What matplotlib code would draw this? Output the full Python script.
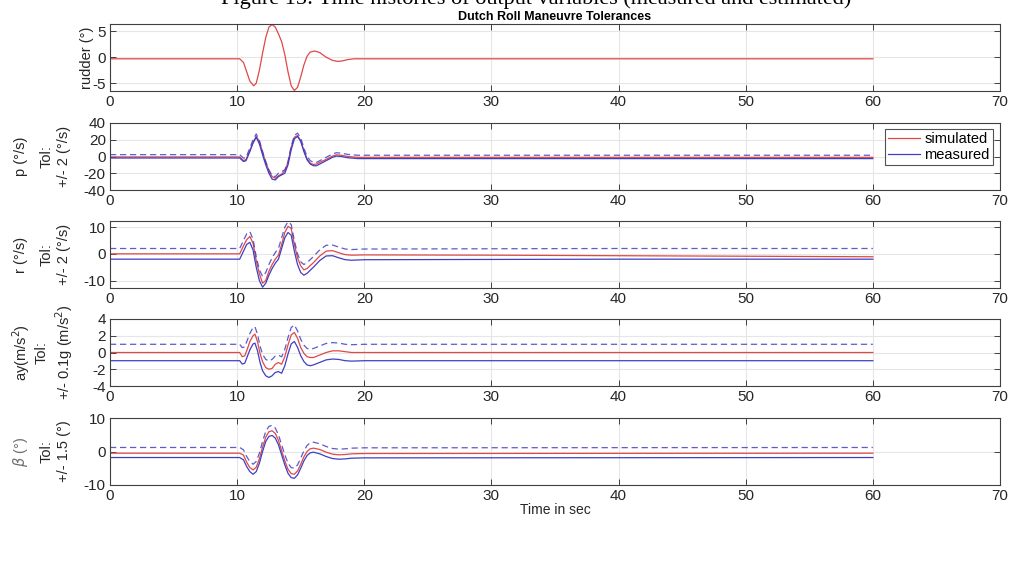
import numpy as np
import matplotlib
matplotlib.use('Agg')
from matplotlib import pyplot as plt

plt.rcParams['font.family'] = ['Liberation Sans', 'DejaVu Sans']
plt.rcParams['axes.unicode_minus'] = False

RED = '#e04848'
BLUE = '#3f3fc4'
TXT = '#262626'

# rudder (simulated only)
t_rud = [0, 10.2, 10.5, 10.75, 11.0, 11.3, 11.5, 11.75, 12.0, 12.25, 12.5, 12.75, 13.0, 13.25,
         13.5, 13.75, 14.0, 14.25, 14.5, 14.75, 15.0, 15.25, 15.5, 15.75, 16.1, 16.5, 17.0,
         17.5, 17.9, 18.3, 18.7, 19.2, 60]
rud_sim = [-0.3, -0.3, -1.0, -2.8, -4.6, -5.5, -5.0, -2.5, 0.8, 3.8, 5.8, 6.3, 5.8, 4.5,
           3.0, 0.5, -2.8, -5.5, -6.4, -5.8, -3.8, -1.5, 0.2, 1.0, 1.2, 0.9, 0.0,
           -0.6, -0.8, -0.7, -0.45, -0.3, -0.3]

# roll rate p
t_p = [0, 10.2, 10.5, 10.7, 11.0, 11.25, 11.5, 11.75, 12.0, 12.25, 12.5, 12.75, 13.0, 13.25,
       13.5, 13.75, 14.0, 14.25, 14.5, 14.75, 15.0, 15.25, 15.5, 15.75, 16.0, 16.25, 16.5,
       17.0, 17.5, 17.8, 18.2, 18.7, 19.5, 20, 60]
p_meas = [0.2, 0.2, -4, -3, 8, 18, 25, 17, 4, -8, -18, -25, -26, -22,
          -20, -18, -8, 10, 23, 26, 20, 8, -2, -7, -9, -9, -7,
          -3, 1, 2.5, 2, 0.5, -0.5, -0.5, -0.5]
p_sim = [-0.5, -0.5, -5, -3.5, 7, 17, 24, 18, 5, -7, -17, -24, -26, -23,
         -21, -17, -7, 11, 23, 25, 19, 7, -3, -8, -9.5, -9, -7,
         -3.5, 0.5, 2, 1.5, 0, -1, -1, -1]
p_tol = 2

# yaw rate r
t_r = [0, 10.2, 10.5, 10.75, 11.0, 11.25, 11.5, 11.75, 12.0, 12.25, 12.5, 12.75, 13.0, 13.25,
       13.5, 13.75, 14.0, 14.25, 14.5, 14.75, 15.0, 15.25, 15.5, 16.0, 16.5, 17.0, 17.5,
       18.0, 18.5, 19.0, 20, 30, 40, 50, 60]
r_meas = [0, 0, 3, 5.5, 6.3, 3.5, -3, -8, -10.5, -9, -6, -3.5, -1.5, 0,
          4, 8, 10, 9, 3, -2, -5, -6, -5.3, -3, -0.5, 1.2, 1.3,
          0.5, -0.2, -0.4, -0.2, -0.1, 0, 0, 0]
r_sim = [0, 0, 3, 5.3, 6.5, 4, -2.5, -7.5, -11, -10, -6.5, -4, -2, -0.5,
         3.5, 8, 10.3, 9.5, 3.5, -1.5, -4.5, -6, -5.5, -3.3, -0.8, 1.0, 1.2,
         0.4, -0.3, -0.5, -0.4, -0.5, -0.7, -0.9, -1.1]
r_tol = 2

# lateral acceleration ay
t_ay = [0, 10.2, 10.4, 10.6, 10.8, 11.0, 11.25, 11.4, 11.6, 11.8, 12.0, 12.25, 12.5, 12.75,
        13.0, 13.25, 13.5, 13.75, 14.0, 14.25, 14.5, 14.75, 15.0, 15.25, 15.5, 15.75, 16.0,
        16.5, 17.0, 17.5, 18.0, 18.5, 19.0, 20, 60]
ay_meas = [0, 0, -0.4, -0.3, 0.5, 1.3, 2.0, 2.1, 1.2, -0.2, -1.2, -1.8, -2.0, -1.8,
           -1.4, -1.3, -1.5, -0.6, 0.8, 2.0, 2.3, 1.6, 0.6, -0.1, -0.5, -0.6, -0.5,
           -0.2, 0.1, 0.2, 0.15, 0.0, -0.05, 0, 0]
ay_sim = [0, 0, -0.5, -0.4, 0.4, 1.3, 2.0, 2.2, 1.3, -0.1, -1.1, -1.8, -2.0, -1.9,
          -1.4, -1.2, -1.4, -0.5, 0.9, 2.1, 2.4, 1.7, 0.6, -0.1, -0.5, -0.6, -0.6,
          -0.3, 0.0, 0.2, 0.2, 0.1, 0.0, 0, 0]
ay_tol = 0.98

# sideslip beta
t_b = [0, 10.2, 10.5, 10.75, 11.0, 11.25, 11.5, 11.75, 12.0, 12.25, 12.5, 12.75, 13.0, 13.25,
       13.5, 13.75, 14.0, 14.25, 14.5, 14.75, 15.0, 15.25, 15.5, 15.75, 16.0, 16.5, 17.0,
       17.5, 18.0, 18.5, 19.0, 20, 60]
b_meas = [-0.3, -0.3, -1.0, -3.0, -4.5, -5.3, -4.5, -2.0, 1.5, 4.5, 6.0, 6.3, 5.5, 3.5,
          0.5, -2.5, -5.0, -6.3, -6.5, -5.5, -3.5, -1.3, 0.3, 1.1, 1.3, 0.8, 0.0,
          -0.6, -0.8, -0.7, -0.5, -0.4, -0.3]
b_sim = [-0.5, -0.5, -1.1, -3.2, -4.8, -5.5, -4.7, -2.2, 1.3, 4.3, 5.9, 6.2, 5.4, 3.3,
         0.2, -2.8, -5.3, -6.6, -6.8, -5.8, -3.8, -1.6, 0.0, 0.8, 1.0, 0.6, -0.2,
         -0.8, -1.0, -0.9, -0.7, -0.6, -0.5]
b_tol = 1.5

panels = [
    dict(t=t_p, sim=p_sim, meas=p_meas, tol=p_tol, ylim=(-40, 40), yt=[-40, -20, 0, 20, 40],
         outer='p (°/s)', inner='Tol:\n+/- 2 (°/s)', ix=-0.044),
    dict(t=t_r, sim=r_sim, meas=r_meas, tol=r_tol, ylim=(-12.8, 12.3), yt=[-10, 0, 10],
         outer='r (°/s)', inner='Tol:\n+/- 2 (°/s)', ix=-0.044),
    dict(t=t_ay, sim=ay_sim, meas=ay_meas, tol=ay_tol, ylim=(-4, 4), yt=[-4, -2, 0, 2, 4],
         outer='ay(m/s$^2$)', inner='Tol:\n+/- 0.1g (m/s$^2$)', ix=-0.039),
    dict(t=t_b, sim=b_sim, meas=b_meas, tol=b_tol, ylim=(-10, 10), yt=[-10, 0, 10],
         outer=r'$\beta$ (°)', inner='Tol:\n+/- 1.5 (°)', ix=-0.044),
]

W, H = 1017, 575
fig = plt.figure(figsize=(W / 100, H / 100), dpi=100)

left = 110 / W
width = 890 / W
tops = [24, 123, 221, 319, 418]
ph = 67


def style(ax):
    ax.set_xlim(0, 70)
    ax.set_xticks(range(0, 71, 10))
    ax.grid(True, color='#e6e6e6', linewidth=0.8)
    ax.set_axisbelow(True)
    ax.tick_params(direction='in', top=True, right=True, length=4, width=0.7,
                   colors='#404040', labelcolor=TXT, labelsize=11, pad=3)
    for s in ax.spines.values():
        s.set_color('#404040')
        s.set_linewidth(0.8)


axes = []
for i in range(5):
    ax = fig.add_axes([left, 1 - (tops[i] + ph) / H, width, ph / H])
    style(ax)
    axes.append(ax)

ax = axes[0]
ax.plot(t_rud, rud_sim, color=RED, lw=0.9)
ax.set_ylim(-6.5, 6.4)
ax.set_yticks([-5, 0, 5])
ax.set_ylabel('rudder (°)', fontsize=10.5, color=TXT)
ax.yaxis.set_label_coords(-0.018, 0.5)
ax.set_title('Dutch Roll Maneuvre Tolerances', fontsize=9, fontweight='bold', pad=3)

for ax, pn in zip(axes[1:], panels):
    m = np.array(pn['meas'])
    l1, = ax.plot(pn['t'], pn['sim'], color=RED, lw=0.9)
    l2, = ax.plot(pn['t'], m - pn['tol'], color=BLUE, lw=0.9)
    ax.plot(pn['t'], m + pn['tol'], color=BLUE, lw=0.9, ls=(0, (5, 3)), alpha=0.85)
    ax.set_ylim(*pn['ylim'])
    ax.set_yticks(pn['yt'])
    ax.set_ylabel(pn['inner'], fontsize=10.5, color=TXT, linespacing=1.3)
    ax.yaxis.set_label_coords(pn['ix'], 0.5)
    c = '#707070' if 'beta' in pn['outer'] else TXT
    ax.text(-0.1, 0.5, pn['outer'], transform=ax.transAxes, rotation=90,
            ha='center', va='center', fontsize=10.5, color=c)
    if ax is axes[1]:
        leg = ax.legend([l1, l2], ['simulated', 'measured'], loc='upper right',
                        bbox_to_anchor=(0.995, 0.95), fontsize=10.5, frameon=True,
                        fancybox=False, edgecolor='#262626', borderpad=0.2,
                        handlelength=2.2, handletextpad=0.3, labelspacing=0.1,
                        borderaxespad=0.2)
        leg.get_frame().set_linewidth(0.8)

axes[-1].set_xlabel('Time in sec', fontsize=10, color=TXT, labelpad=0)

fig.text(0.527, 1 + 1 / H, 'Figure 15: Time histories of output variables (measured and estimated)',
         ha='center', va='center', fontsize=16, family=['Liberation Serif', 'DejaVu Serif'])

fig.savefig('out.png', dpi=100)
